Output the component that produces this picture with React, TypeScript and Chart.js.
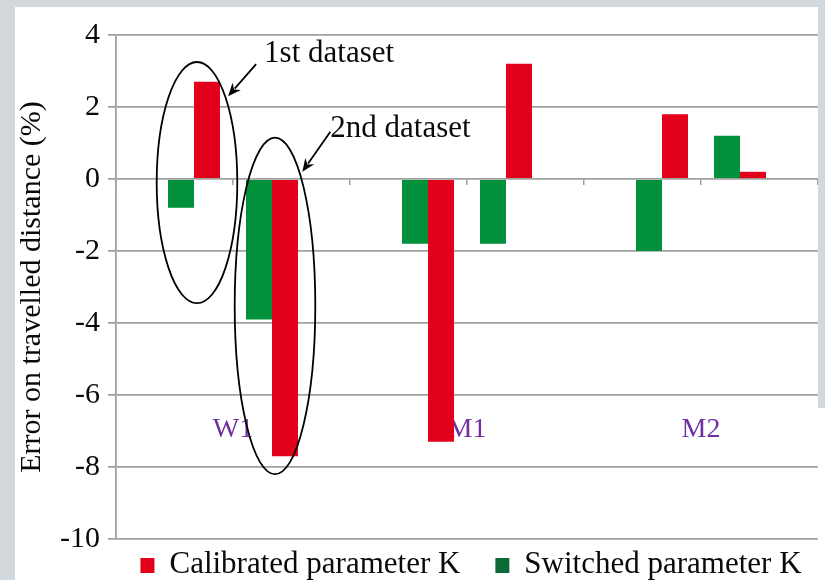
import React, { useEffect, useRef } from 'react';
import { Chart, registerables } from 'chart.js';

Chart.register(...registerables);

// ---- data ----
const categories = ['W1', 'M1', 'M2'];
const switched1st = [-0.8, -1.8, -2.0];
const calibrated1st = [2.7, -7.3, 1.8];
const switched2nd = [-3.9, -1.8, 1.2];
const calibrated2nd = [-7.7, 3.2, 0.2];
const spacer = [null, null, null];
const subTickLabels = ['', '', '', '', '', ''];
const seriesNames = ['Switched parameter K', 'Calibrated parameter K'];
const annotationTexts = ['1st dataset', '2nd dataset'];
const yMin = -10;
const yMax = 4;
const yStep = 2;
const categoryLabelLevel = -6.5;
const yTitle = 'Error on travelled distance (%)';

// ---- styles ----
const RED = '#e2001a';
const GREEN = '#00913a';
const LEGEND_GREEN = '#0b6b37';
const GRID = '#a0a0a0';
const PURPLE = '#7030a0';
const TEXT = '#0a0a0a';
const BG = '#d2d8dc';
const FONT = "'Liberation Serif', 'Times New Roman', serif";

const annotations = [
  { text: annotationTexts[0], bars: [0, 1], cat: 0, top: 3.25, bottom: -3.45, tipValue: 2.3, vec: [-28, 32], textDx: 8, textDy: -2 },
  { text: annotationTexts[1], bars: [3, 4], cat: 0, top: 1.15, bottom: -8.2, tipValue: 0.2, vec: [-28, 40], textDx: 0, textDy: 5 },
];

const legendItems = [
  { ds: 1, color: RED },
  { ds: 0, color: LEGEND_GREEN },
];

const annotationPlugin = {
  id: 'ellipseAnnotations',
  afterDatasetsDraw(chart: any) {
    const ctx = chart.ctx;
    const y = chart.scales.y;
    annotations.forEach((a) => {
      const e0 = chart.getDatasetMeta(a.bars[0]).data[a.cat];
      const e1 = chart.getDatasetMeta(a.bars[1]).data[a.cat];
      const cx = (e0.x + e1.x) / 2 + 3;
      const rx = e0.width * 1.55;
      const yTop = y.getPixelForValue(a.top);
      const yBot = y.getPixelForValue(a.bottom);
      const cy = (yTop + yBot) / 2;
      const ry = (yBot - yTop) / 2;
      ctx.save();
      ctx.strokeStyle = '#000';
      ctx.fillStyle = '#000';
      ctx.lineWidth = 1.8;
      ctx.beginPath();
      ctx.ellipse(cx, cy, rx, ry, 0, 0, Math.PI * 2);
      ctx.stroke();
      const ty = y.getPixelForValue(a.tipValue);
      const k = (ty - cy) / ry;
      const tx = cx + rx * Math.sqrt(Math.max(0, 1 - k * k)) + 3;
      const sx = tx - a.vec[0];
      const sy = ty - a.vec[1];
      const ang = Math.atan2(a.vec[1], a.vec[0]);
      const head = 13;
      const hw = 5.5;
      const bx = tx - head * Math.cos(ang);
      const by = ty - head * Math.sin(ang);
      ctx.beginPath();
      ctx.moveTo(sx, sy);
      ctx.lineTo(bx + 3 * Math.cos(ang), by + 3 * Math.sin(ang));
      ctx.stroke();
      ctx.beginPath();
      ctx.moveTo(tx, ty);
      ctx.lineTo(bx - hw * Math.sin(ang), by + hw * Math.cos(ang));
      ctx.lineTo(bx + 4 * Math.cos(ang), by + 4 * Math.sin(ang));
      ctx.lineTo(bx + hw * Math.sin(ang), by - hw * Math.cos(ang));
      ctx.closePath();
      ctx.fill();
      ctx.font = `31px ${FONT}`;
      ctx.fillStyle = TEXT;
      ctx.textBaseline = 'alphabetic';
      ctx.textAlign = 'left';
      ctx.fillText(a.text, sx + a.textDx, sy + a.textDy);
      ctx.restore();
    });
  },
};

const legendPlugin = {
  id: 'bottomLegend',
  afterDraw(chart: any) {
    const ctx = chart.ctx;
    const ca = chart.chartArea;
    ctx.save();
    ctx.font = `31px ${FONT}`;
    const box = 14;
    const gapText = 15;
    const gapItems = 35;
    const labels = legendItems.map((it) => chart.data.datasets[it.ds].label as string);
    const widths = labels.map((t) => ctx.measureText(t).width);
    let total = 0;
    widths.forEach((w, i) => {
      total += box + gapText + w + (i < widths.length - 1 ? gapItems : 0);
    });
    let x = (ca.left + ca.right) / 2 - total / 2 + 4;
    const baseline = ca.bottom + 34;
    legendItems.forEach((it, i) => {
      ctx.fillStyle = it.color;
      ctx.fillRect(x, baseline - 15, box, 15);
      x += box + gapText;
      ctx.fillStyle = TEXT;
      ctx.textBaseline = 'alphabetic';
      ctx.textAlign = 'left';
      ctx.fillText(labels[i], x, baseline);
      x += widths[i] + gapItems;
    });
    ctx.restore();
  },
};

export default function App() {
  const ref = useRef<HTMLCanvasElement | null>(null);

  useEffect(() => {
    if (!ref.current) return;
    const chart = new Chart(ref.current, {
      type: 'bar',
      data: {
        labels: categories,
        datasets: [
          { label: seriesNames[0], data: switched1st, backgroundColor: GREEN },
          { label: seriesNames[1], data: calibrated1st, backgroundColor: RED },
          { label: '', data: spacer as any, backgroundColor: 'rgba(0,0,0,0)' },
          { label: seriesNames[0], data: switched2nd, backgroundColor: GREEN },
          { label: seriesNames[1], data: calibrated2nd, backgroundColor: RED },
        ],
      },
      options: {
        responsive: false,
        animation: false,
        events: [],
        datasets: {
          bar: { categoryPercentage: 5 / 9, barPercentage: 1, borderWidth: 0 },
        },
        layout: { padding: { top: 28, bottom: 41, left: 0, right: 0 } },
        plugins: {
          legend: { display: false },
          tooltip: { enabled: false },
          title: { display: false },
        },
        scales: {
          x: {
            type: 'category',
            position: { y: categoryLabelLevel } as any,
            offset: true,
            grid: { display: false, drawTicks: false },
            border: { display: false },
            ticks: {
              color: PURPLE,
              font: { family: FONT, size: 28 },
              padding: 0,
              maxRotation: 0,
              autoSkip: false,
            },
          },
          x2: {
            type: 'category',
            labels: subTickLabels,
            position: { y: 0 } as any,
            offset: true,
            grid: { offset: true, drawOnChartArea: false, drawTicks: true, tickLength: 6, color: GRID, lineWidth: 1.5 },
            border: { display: false },
            ticks: { display: false, padding: 0 },
          },
          y: {
            min: yMin,
            max: yMax,
            ticks: {
              stepSize: yStep,
              color: TEXT,
              font: { family: FONT, size: 30 },
              padding: 8,
            },
            grid: { color: GRID, lineWidth: 1.8, tickLength: 8 },
            border: { display: true, color: GRID, width: 1.8 },
            title: {
              display: true,
              text: yTitle,
              color: TEXT,
              font: { family: FONT, size: 30, lineHeight: 1 },
              padding: { top: 2, bottom: 0 },
            },
            afterFit: (scale: any) => {
              scale.width = 101;
            },
          },
        },
      },
      plugins: [annotationPlugin, legendPlugin],
    });
    return () => chart.destroy();
  }, []);

  return (
    <div style={{ position: 'fixed', left: 0, top: 0, width: 825, height: 580, background: BG, overflow: 'hidden' }}>
      <div style={{ position: 'absolute', left: 15, top: 7, width: 810, height: 573, background: '#ffffff' }} />
      <div style={{ position: 'absolute', left: 818, top: 0, width: 7, height: 408, background: BG }} />
      <div style={{ position: 'absolute', left: 15, top: 7, width: 803, height: 573 }}>
        <canvas ref={ref} width={803} height={573} style={{ width: 803, height: 573, display: 'block' }} />
      </div>
    </div>
  );
}
